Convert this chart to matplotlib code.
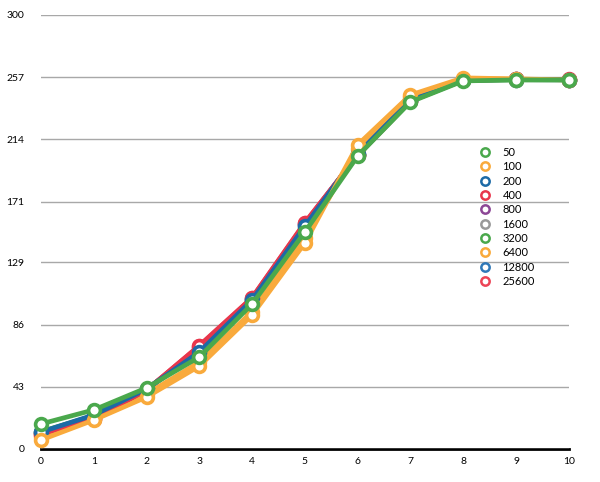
import matplotlib.pyplot as plt
from matplotlib.lines import Line2D

#%% Data
x = list(range(11))
labels = ['50', '100', '200', '400', '800', '1600', '3200', '6400', '12800', '25600']
colors = ['#4aa84c', '#f9aa3c', '#1c6aa6', '#e8364c', '#8c4796', '#999999',
          '#4aa84c', '#f9aa3c', '#2f78b8', '#ec4456']

s50    = [17.3, 27.0, 42.2, 63.6, 100.2, 150.0, 202.5, 239.9, 254.4, 255.1, 255.1]
s100   = [6.2, 20.0, 35.9, 57.3, 92.6, 142.4, 210.2, 244.7, 256.5, 255.8, 255.1]
s200   = [11.7, 23.5, 41.5, 67.0, 103.0, 154.0, 204.0, 241.0, 255.0, 255.4, 255.3]
s400   = [10.4, 20.7, 40.8, 71.2, 104.4, 156.2, 203.0, 240.5, 255.0, 255.5, 255.4]
s800   = [10.8, 21.5, 41.0, 69.5, 104.0, 155.5, 203.5, 240.8, 255.1, 255.4, 255.3]
s1600  = [11.0, 22.0, 41.2, 68.5, 103.5, 155.0, 203.5, 240.5, 255.0, 255.3, 255.2]
s3200  = [12.0, 23.0, 41.5, 66.0, 102.0, 153.0, 203.0, 240.3, 254.8, 255.2, 255.1]
s6400  = [8.0, 21.0, 38.0, 60.0, 95.0, 146.0, 207.0, 243.0, 256.0, 255.6, 255.2]
s12800 = [11.5, 23.0, 41.3, 67.5, 103.2, 154.5, 204.0, 241.0, 255.0, 255.3, 255.2]
s25600 = [10.0, 20.5, 40.5, 71.5, 104.6, 156.5, 203.0, 240.5, 255.0, 255.4, 255.3]
series = [s50, s100, s200, s400, s800, s1600, s3200, s6400, s12800, s25600]

yticks = [0, 43, 86, 129, 171, 214, 257, 300]

#%% Plot
plt.rcParams['font.family'] = ['Lato', 'DejaVu Sans']
fig = plt.figure(figsize=(6, 4.82), dpi=100)
ax = fig.add_axes([0.0683, 0.0685, 0.8797, 0.9005])

# draw in reverse so the first series ends up on top
for vals, c in reversed(list(zip(series, colors))):
    ax.plot(x, vals, color=c, lw=3.4, marker='o', ms=8.5, mfc='white',
            mec=c, mew=2.6, clip_on=False, solid_joinstyle='round')

ax.set_xlim(0, 10)
ax.set_ylim(0, 300)
ax.set_xticks(x)
ax.set_yticks(yticks)
ax.grid(axis='y', color='#a8a8a8', lw=1)
ax.set_axisbelow(True)
for side in ['left', 'right', 'top']:
    ax.spines[side].set_visible(False)
ax.spines['bottom'].set_linewidth(2)
ax.spines['bottom'].set_zorder(0)
ax.tick_params(length=0, labelsize=7.5)
ax.tick_params(axis='y', pad=12)
ax.tick_params(axis='x', pad=6)

handles = [Line2D([], [], ls='none', marker='o', ms=6, mfc='white', mec=c, mew=1.8)
           for c in colors]
ax.legend(handles, labels, loc='upper left', bbox_to_anchor=(0.782, 0.716),
          bbox_transform=fig.transFigure, frameon=False, fontsize=8,
          handlelength=1.0, handletextpad=1.1, labelspacing=0.3)

plt.savefig('out.png', dpi=100)
